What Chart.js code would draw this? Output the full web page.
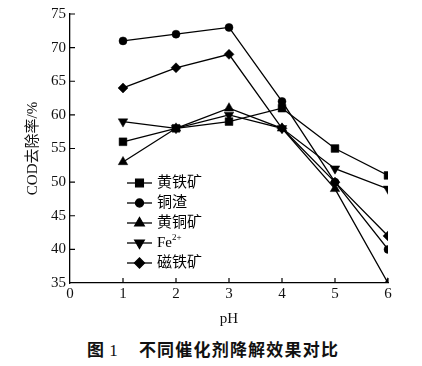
<!DOCTYPE html>
<html>
<head>
<meta charset="utf-8">
<script src="https://cdn.jsdelivr.net/npm/chart.js@4.4.0/dist/chart.umd.min.js"></script>
<style>
body { margin: 0; background: #fff; }
#wrap { position: relative; width: 422px; height: 330px; }
#caption { position: absolute; left: 87px; top: 336px; white-space: nowrap; line-height: 20px;
  font: bold 17px "Noto Sans CJK SC", sans-serif; color: #111; letter-spacing: 1.2px; }
#caption .num { font-family: "Liberation Serif", serif; font-weight: normal; margin-left: 4px; margin-right: 20px; }
</style>
</head>
<body>
<div id="wrap"><canvas id="c"></canvas></div>
<div id="caption">图<span class="num">1</span>不同催化剂降解效果对比</div>
<script>
const phValues = [1, 2, 3, 4, 5, 6];
const seriesNames = ['黄铁矿', '铜渣', '黄铜矿', 'Fe²⁺', '磁铁矿'];
const pyrite = [56, 58, 59, 61, 55, 51];
const copperSlag = [71, 72, 73, 62, 50, 40];
const chalcopyrite = [53, 58, 61, 58, 49, 35];
const ferrous = [59, 58, 60, 58, 52, 49];
const magnetite = [64, 67, 69, 58, 50, 42];
const yTicks = [35, 40, 45, 50, 55, 60, 65, 70, 75];

const serif = '"Liberation Serif", "Noto Sans CJK SC", serif';
const markers = [
  { style: 'rect', radius: 5.5, rot: 0 },
  { style: 'circle', radius: 4, rot: 0 },
  { style: 'triangle', radius: 5.5, rot: 0 },
  { style: 'triangle', radius: 5.5, rot: 180 },
  { style: 'rectRot', radius: 5, rot: 0 }
];
const allSeries = [pyrite, copperSlag, chalcopyrite, ferrous, magnetite];

function toPoints(vals) {
  return vals.map((v, i) => ({ x: phValues[i], y: v }));
}

const datasets = allSeries.map((vals, i) => ({
  label: seriesNames[i],
  data: toPoints(vals),
  borderColor: '#000',
  backgroundColor: '#000',
  borderWidth: 1.3,
  pointStyle: markers[i].style,
  pointRadius: markers[i].radius,
  pointRotation: markers[i].rot,
  pointBorderWidth: 0.5,
  tension: 0
}));

// inward ticks + in-plot legend with line and marker
const extras = {
  id: 'extras',
  afterDraw(chart) {
    const ctx = chart.ctx;
    const xs = chart.scales.x, ys = chart.scales.y;
    ctx.save();
    ctx.strokeStyle = '#000';
    ctx.lineWidth = 1.2;
    ctx.beginPath();
    for (let v = 1; v <= 6; v++) {
      const px = xs.getPixelForValue(v);
      ctx.moveTo(px, ys.bottom);
      ctx.lineTo(px, ys.bottom - 5);
    }
    yTicks.forEach(v => {
      if (v === 35) return;
      const py = ys.getPixelForValue(v);
      ctx.moveTo(xs.left, py);
      ctx.lineTo(xs.left + 5, py);
    });
    ctx.stroke();

    const x0 = 127, x1 = 152, top = 183, gap = 20;
    chart.data.datasets.forEach((ds, i) => {
      const y = top + i * gap;
      ctx.beginPath();
      ctx.lineWidth = 1.3;
      ctx.moveTo(x0, y);
      ctx.lineTo(x1, y);
      ctx.stroke();
      ctx.fillStyle = '#000';
      Chart.helpers.drawPoint(ctx, { pointStyle: ds.pointStyle, radius: ds.pointRadius, rotation: ds.pointRotation, borderWidth: 0.5 }, (x0 + x1) / 2, y);
      ctx.fillStyle = '#000';
      ctx.textBaseline = 'middle';
      ctx.textAlign = 'left';
      const m = ds.label.match(/^(.*?)([²⁺]+)$/);
      if (m) {
        ctx.font = '15px ' + serif;
        ctx.fillText(m[1], 157, y);
        const w = ctx.measureText(m[1]).width;
        ctx.font = '9px ' + serif;
        ctx.fillText(m[2].replace('²', '2').replace('⁺', '+'), 157 + w, y - 5);
      } else {
        ctx.font = '15px ' + serif;
        ctx.fillText(ds.label, 157, y);
      }
    });
    ctx.restore();
  }
};

new Chart(document.getElementById('c'), {
  type: 'line',
  data: { datasets },
  options: {
    responsive: true,
    maintainAspectRatio: false,
    animation: false,
    layout: { padding: { top: 14, right: 34, left: 0, bottom: 0 } },
    plugins: { legend: { display: false }, tooltip: { enabled: false } },
    scales: {
      x: {
        type: 'linear', min: 0, max: 6,
        ticks: { stepSize: 1, color: '#111', padding: 2, font: { family: serif, size: 15 } },
        grid: { display: false, drawTicks: false },
        border: { display: true, color: '#000', width: 1.3 },
        title: { display: true, text: 'pH', color: '#111', font: { family: serif, size: 15 }, padding: { top: 0, bottom: 2 } },
        afterFit(s) { s.height = 47; }
      },
      y: {
        min: 35, max: 75,
        afterBuildTicks(s) { s.ticks = yTicks.map(v => ({ value: v })); },
        ticks: { color: '#111', padding: 4, font: { family: serif, size: 15 } },
        grid: { display: false, drawTicks: false },
        border: { display: true, color: '#000', width: 1.3 },
        title: { display: true, text: 'COD去除率/%', color: '#111', font: { family: serif, size: 15 }, padding: { top: 24, bottom: 0 } },
        afterFit(s) { s.width = 70; }
      }
    }
  },
  plugins: [extras]
});
</script>
</body>
</html>
